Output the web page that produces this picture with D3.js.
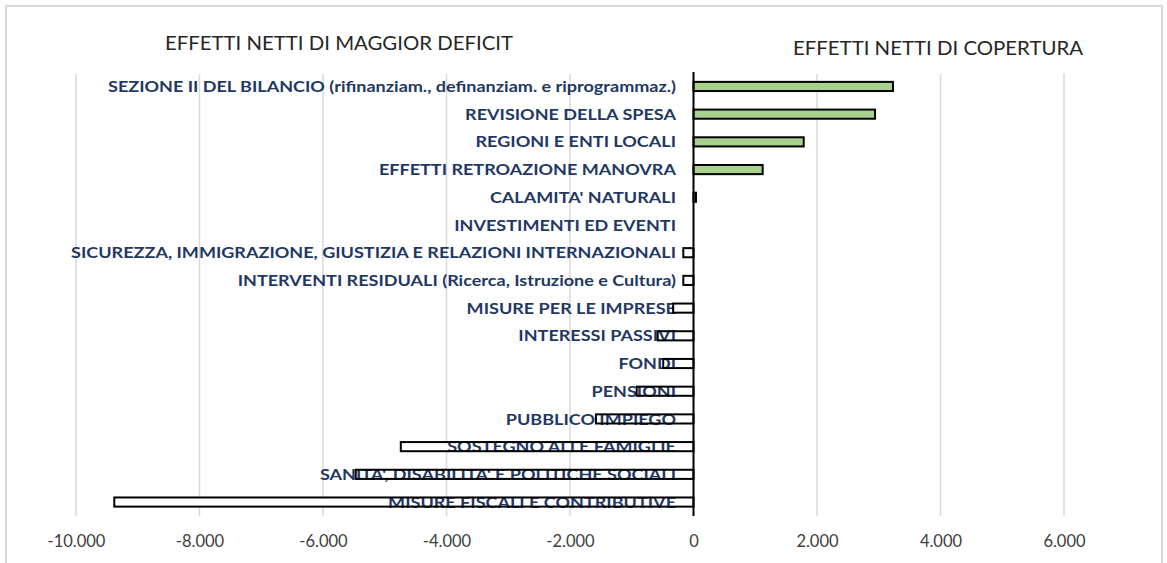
<!DOCTYPE html>
<html>
<head>
<meta charset="utf-8">
<script src="https://cdn.jsdelivr.net/npm/d3@7"></script>
<style>
  html, body { margin: 0; padding: 0; background: #fff; }
  svg { display: block; }
</style>
</head>
<body>
<svg id="chart" width="1167" height="563"></svg>
<script>
// ---- data ----
const categories = [
  "SEZIONE II DEL BILANCIO (rifinanziam., definanziam. e riprogrammaz.)",
  "REVISIONE DELLA SPESA",
  "REGIONI E ENTI LOCALI",
  "EFFETTI RETROAZIONE MANOVRA",
  "CALAMITA' NATURALI",
  "INVESTIMENTI ED EVENTI",
  "SICUREZZA, IMMIGRAZIONE, GIUSTIZIA E RELAZIONI INTERNAZIONALI",
  "INTERVENTI RESIDUALI (Ricerca, Istruzione e Cultura)",
  "MISURE PER LE IMPRESE",
  "INTERESSI PASSIVI",
  "FONDI",
  "PENSIONI",
  "PUBBLICO IMPIEGO",
  "SOSTEGNO ALLE FAMIGLIE",
  "SANITA', DISABILITA' E POLITICHE SOCIALI",
  "MISURE FISCALI E CONTRIBUTIVE"
];
const values = [3230, 2940, 1785, 1120, 40, 0, -165, -165, -330, -580, -490, -920, -1580, -4740, -5470, -9380];
const tickValues = [-10000, -8000, -6000, -4000, -2000, 0, 2000, 4000, 6000];
const headingLeft = "EFFETTI NETTI DI MAGGIOR DEFICIT";
const headingRight = "EFFETTI NETTI DI COPERTURA";

// ---- layout ----
const svg = d3.select("#chart");
const plot = { left: 76, right: 1064, top: 72.6, bottom: 515.9 };
const FONT = "Lato, 'Open Sans', sans-serif";

const x = d3.scaleLinear().domain([-10000, 6000]).range([plot.left, plot.right]);
const y = d3.scaleBand().domain(categories).range([plot.top, plot.bottom]).paddingInner(0.67).paddingOuter(0.335);

const it = d3.formatLocale({ decimal: ",", thousands: ".", grouping: [3], currency: ["€", ""], minus: "-" });
const fmt = it.format(",.0f");

// chart border
svg.append("rect")
  .attr("x", 6).attr("y", 6).attr("width", 1156).attr("height", 580)
  .attr("fill", "none").attr("stroke", "#d9d9d9").attr("stroke-width", 2);

// gridlines
svg.append("g")
  .selectAll("line")
  .data(tickValues.filter(d => d !== 0))
  .join("line")
  .attr("x1", d => x(d)).attr("x2", d => x(d))
  .attr("y1", 74).attr("y2", plot.bottom)
  .attr("stroke", "#d9d9d9").attr("stroke-width", 1.5);

// axis tick labels
const xAxis = d3.axisBottom(x).tickValues(tickValues).tickFormat(fmt).tickSize(0).tickPadding(0);
const ax = svg.append("g").attr("transform", `translate(0, 541)`).call(xAxis);
ax.select(".domain").remove();
ax.selectAll("text")
  .attr("font-family", FONT)
  .attr("font-size", 16.5)
  .attr("fill", "#404040")
  .attr("dy", "0.36em");

// bar fills
svg.append("g")
  .selectAll("rect")
  .data(values)
  .join("rect")
  .attr("x", d => x(Math.min(0, d)))
  .attr("y", (d, i) => y(categories[i]))
  .attr("width", d => Math.abs(x(d) - x(0)))
  .attr("height", y.bandwidth())
  .attr("fill", d => d >= 0 ? "#a9d18e" : "#ffffff");

// category labels
const labels = svg.append("g")
  .selectAll("text")
  .data(categories)
  .join("text")
  .attr("x", 676)
  .attr("y", d => y(d) + y.bandwidth() / 2)
  .attr("dy", "0.36em")
  .attr("text-anchor", "end")
  .attr("font-family", FONT)
  .attr("font-weight", "bold")
  .attr("font-size", 15.5)
  .attr("fill", "#1f3864")
  .text(d => d);

// condense labels horizontally like the reference's narrow face
const w0 = labels.nodes()[0].getComputedTextLength();
const k = 568 / w0;
labels.each(function () {
  const w = this.getComputedTextLength();
  d3.select(this).attr("textLength", w * k).attr("lengthAdjust", "spacingAndGlyphs");
});

// bar outlines on top
svg.append("g")
  .selectAll("rect")
  .data(values)
  .join("rect")
  .attr("x", d => x(Math.min(0, d)))
  .attr("y", (d, i) => y(categories[i]))
  .attr("width", d => Math.abs(x(d) - x(0)))
  .attr("height", y.bandwidth())
  .attr("fill", "none")
  .attr("stroke", "#000")
  .attr("stroke-width", 2);

// zero axis line
svg.append("line")
  .attr("x1", x(0)).attr("x2", x(0))
  .attr("y1", 72).attr("y2", plot.bottom)
  .attr("stroke", "#000").attr("stroke-width", 2);

// headings
svg.append("text")
  .attr("x", 165).attr("y", 49.5)
  .attr("font-family", FONT)
  .attr("font-size", 20).attr("fill", "#262626")
  .attr("textLength", 348).attr("lengthAdjust", "spacingAndGlyphs")
  .text(headingLeft);
svg.append("text")
  .attr("x", 793).attr("y", 55)
  .attr("font-family", FONT)
  .attr("font-size", 20).attr("fill", "#262626")
  .attr("textLength", 290).attr("lengthAdjust", "spacingAndGlyphs")
  .text(headingRight);
</script>
</body>
</html>
